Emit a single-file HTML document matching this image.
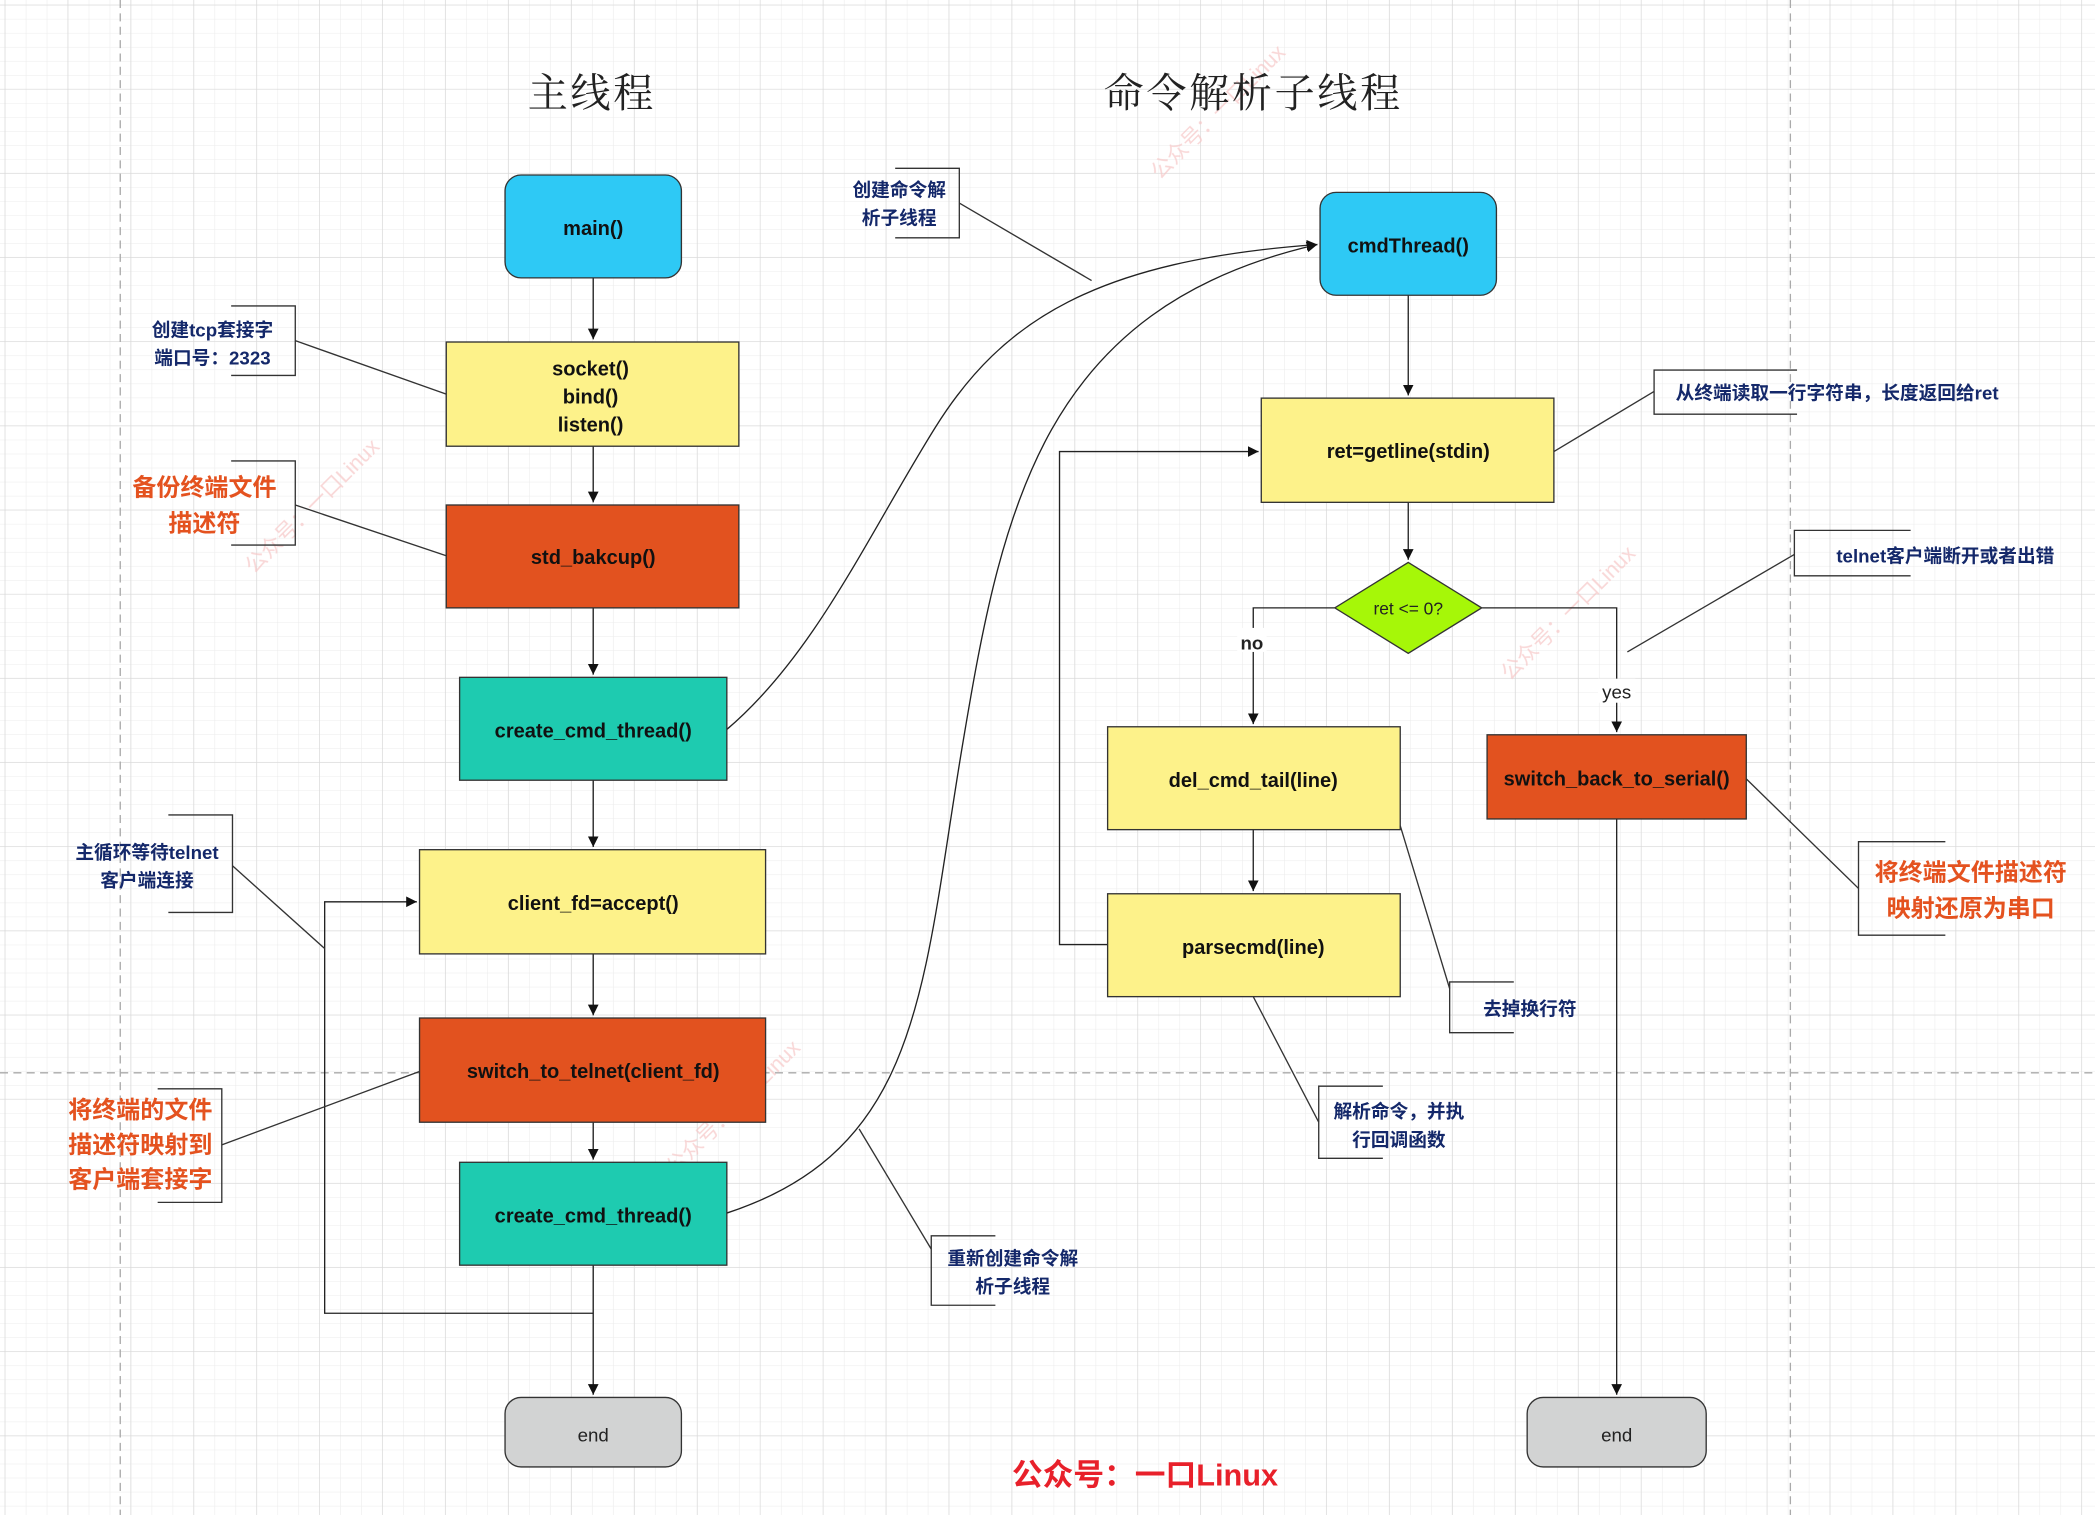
<!DOCTYPE html>
<html><head><meta charset="utf-8"><style>
html,body{margin:0;padding:0;background:#fff;}
svg{display:block;}
text{font-family:"Liberation Sans","Noto Sans CJK SC",sans-serif;}
.n{font-size:15px;font-weight:bold;fill:#111;text-anchor:middle;}
.a{font-size:14px;font-weight:bold;fill:#14286a;text-anchor:middle;}
.o{font-size:18px;font-weight:bold;fill:#e4521f;text-anchor:middle;}
.t{font-family:"Noto Serif CJK SC","Liberation Serif",serif;font-size:30px;fill:#222;text-anchor:middle;letter-spacing:2px;}
</style></head><body>
<svg width="2095" height="1515" viewBox="0 0 1568 1134" preserveAspectRatio="none" xmlns="http://www.w3.org/2000/svg">
<defs>
<pattern id="g1" width="15.7" height="10.5" patternUnits="userSpaceOnUse" x="4" y="4"><path d="M15.7 0V10.5M0 10.5H15.7" stroke="#ebebeb" stroke-width="0.8" fill="none"/></pattern>
<pattern id="g2" width="47.1" height="63" patternUnits="userSpaceOnUse" x="4" y="4"><path d="M47.1 0V63M0 63H47.1" stroke="#d8d8d8" stroke-width="1" fill="none"/></pattern>
<marker id="ar" markerWidth="10" markerHeight="10" refX="8" refY="4" orient="auto" markerUnits="userSpaceOnUse"><path d="M0,0 L8,4 L0,8 z" fill="#111"/></marker>
</defs>
<rect width="1568" height="1134" fill="#fff"/>
<rect width="1568" height="1134" fill="url(#g1)"/>
<rect width="1568" height="1134" fill="url(#g2)"/>
<g stroke="#aaa" stroke-dasharray="6,4" stroke-width="1">
<line x1="90" y1="0" x2="90" y2="1134"/><line x1="1340" y1="0" x2="1340" y2="1134"/><line x1="0" y1="803" x2="1568" y2="803"/>
</g>
<g fill="#f6c6c6" font-size="16" opacity="0.7">
<text transform="translate(190,430) rotate(-45)">公众号：一口Linux</text>
<text transform="translate(505,880) rotate(-45)">公众号：一口Linux</text>
<text transform="translate(868,135) rotate(-45)">公众号：一口Linux</text>
<text transform="translate(1130,510) rotate(-45)">公众号：一口Linux</text>
</g>
<text class="t" x="443" y="80">主线程</text>
<text class="t" x="938" y="80">命令解析子线程</text>

<g stroke="#222" stroke-width="1" fill="none">
<line x1="444" y1="208" x2="444" y2="254" marker-end="url(#ar)"/>
<line x1="444" y1="334" x2="444" y2="376" marker-end="url(#ar)"/>
<line x1="444" y1="455" x2="444" y2="505" marker-end="url(#ar)"/>
<line x1="444" y1="584" x2="444" y2="634" marker-end="url(#ar)"/>
<line x1="444" y1="714" x2="444" y2="760" marker-end="url(#ar)"/>
<line x1="444" y1="840" x2="444" y2="868" marker-end="url(#ar)"/>
<line x1="444" y1="947" x2="444" y2="1044" marker-end="url(#ar)"/>
<polyline points="444,983 243,983 243,675 312,675" marker-end="url(#ar)"/>
<path d="M544,546 C610,490 650,400 700,320 C750,240 820,195 986,183" marker-end="url(#ar)"/>
<path d="M544,908 C690,860 690,740 720,560 C750,380 780,230 986,183" marker-end="url(#ar)"/>
<line x1="1054" y1="221" x2="1054" y2="296" marker-end="url(#ar)"/>
<line x1="1054" y1="376" x2="1054" y2="419" marker-end="url(#ar)"/>
<polyline points="999,455 938,455 938,542" marker-end="url(#ar)"/>
<polyline points="1109,455 1210,455 1210,548" marker-end="url(#ar)"/>
<line x1="938" y1="621" x2="938" y2="667" marker-end="url(#ar)"/>
<polyline points="829,707 793,707 793,338 942,338" marker-end="url(#ar)"/>
<line x1="1210" y1="613" x2="1210" y2="1044" marker-end="url(#ar)"/>
</g>

<g stroke="#333" stroke-width="1">
<rect x="378" y="131" width="132" height="77" rx="12" fill="#2ec9f5"/>
<rect x="334" y="256" width="219" height="78" fill="#fdf28a"/>
<rect x="334" y="378" width="219" height="77" fill="#e2521f"/>
<rect x="344" y="507" width="200" height="77" fill="#1ecbb0"/>
<rect x="314" y="636" width="259" height="78" fill="#fdf28a"/>
<rect x="314" y="762" width="259" height="78" fill="#e2521f"/>
<rect x="344" y="870" width="200" height="77" fill="#1ecbb0"/>
<rect x="378" y="1046" width="132" height="52" rx="12" fill="#d2d3d3"/>
<rect x="988" y="144" width="132" height="77" rx="12" fill="#2ec9f5"/>
<rect x="944" y="298" width="219" height="78" fill="#fdf28a"/>
<polygon points="1054,421 1109,455 1054,489 999,455" fill="#a6f708"/>
<rect x="829" y="544" width="219" height="77" fill="#fdf28a"/>
<rect x="829" y="669" width="219" height="77" fill="#fdf28a"/>
<rect x="1113" y="550" width="194" height="63" fill="#e2521f"/>
<rect x="1143" y="1046" width="134" height="52" rx="12" fill="#d2d3d3"/>
</g>
<text class="n" x="444" y="176" font-size="18">main()</text>
<text class="n" x="442" y="281">socket()</text>
<text class="n" x="442" y="302">bind()</text>
<text class="n" x="442" y="323">listen()</text>
<text class="n" x="444" y="422">std_bakcup()</text>
<text class="n" x="444" y="552">create_cmd_thread()</text>
<text class="n" x="444" y="681">client_fd=accept()</text>
<text class="n" x="444" y="807">switch_to_telnet(client_fd)</text>
<text class="n" x="444" y="915">create_cmd_thread()</text>
<text x="444" y="1079" font-size="14" text-anchor="middle" fill="#222">end</text>
<text class="n" x="1054" y="189" font-size="18">cmdThread()</text>
<text class="n" x="1054" y="343">ret=getline(stdin)</text>
<text x="1054" y="460" font-size="13" text-anchor="middle" fill="#222">ret &lt;= 0?</text>
<text class="n" x="938" y="589">del_cmd_tail(line)</text>
<text class="n" x="938" y="714">parsecmd(line)</text>
<text class="n" x="1210" y="588" font-size="14">switch_back_to_serial()</text>
<text x="1210" y="1079" font-size="14" text-anchor="middle" fill="#222">end</text>
<rect x="926" y="470" width="22" height="18" fill="#fff"/>
<text x="937" y="486" font-size="14" font-weight="bold" text-anchor="middle" fill="#222">no</text>
<rect x="1196" y="508" width="28" height="18" fill="#fff"/>
<text x="1210" y="523" font-size="14" text-anchor="middle" fill="#222">yes</text>

<g stroke="#333" stroke-width="1" fill="none">
<polyline points="173,229 221,229 221,281 173,281"/><line x1="221" y1="255" x2="334" y2="295"/>
<polyline points="173,345 221,345 221,408 173,408"/><line x1="221" y1="378" x2="334" y2="416"/>
<polyline points="126,610 174,610 174,683 126,683"/><line x1="174" y1="648" x2="243" y2="710"/>
<polyline points="118,815 166,815 166,900 118,900"/><line x1="166" y1="857" x2="314" y2="802"/>
<polyline points="670,126 718,126 718,178 670,178"/><line x1="718" y1="152" x2="817" y2="210"/>
<polyline points="745,925 697,925 697,977 745,977"/><line x1="697" y1="935" x2="643" y2="845"/>
<polyline points="1345,277 1238,277 1238,310 1345,310"/><line x1="1238" y1="293" x2="1163" y2="338"/>
<polyline points="1430,397 1343,397 1343,431 1430,431"/><line x1="1343" y1="415" x2="1218" y2="488"/>
<polyline points="1456,630 1391,630 1391,700 1456,700"/><line x1="1391" y1="665" x2="1307" y2="583"/>
<polyline points="1133,735 1085,735 1085,773 1133,773"/><line x1="1085" y1="740" x2="1048" y2="618"/>
<polyline points="1035,813 987,813 987,867 1035,867"/><line x1="987" y1="840" x2="938" y2="746"/>
</g>
<text class="a" x="159" y="252">创建tcp套接字</text>
<text class="a" x="159" y="273">端口号：2323</text>
<text class="o" x="153" y="371">备份终端文件</text>
<text class="o" x="153" y="398">描述符</text>
<text class="a" x="110" y="643">主循环等待telnet</text>
<text class="a" x="110" y="664">客户端连接</text>
<text class="o" x="105" y="837">将终端的文件</text>
<text class="o" x="105" y="863">描述符映射到</text>
<text class="o" x="105" y="889">客户端套接字</text>
<text class="a" x="673" y="147">创建命令解</text>
<text class="a" x="673" y="168">析子线程</text>
<text class="a" x="758" y="947">重新创建命令解</text>
<text class="a" x="758" y="968">析子线程</text>
<text class="a" x="1375" y="299">从终端读取一行字符串，长度返回给ret</text>
<text class="a" x="1456" y="421">telnet客户端断开或者出错</text>
<text class="o" x="1475" y="659">将终端文件描述符</text>
<text class="o" x="1475" y="686">映射还原为串口</text>
<text class="a" x="1145" y="760">去掉换行符</text>
<text class="a" x="1047" y="837">解析命令，并执</text>
<text class="a" x="1047" y="858">行回调函数</text>
<text x="857" y="1112" font-size="23" font-weight="bold" text-anchor="middle" fill="#e8202a">公众号：一口Linux</text>
</svg>
</body></html>
